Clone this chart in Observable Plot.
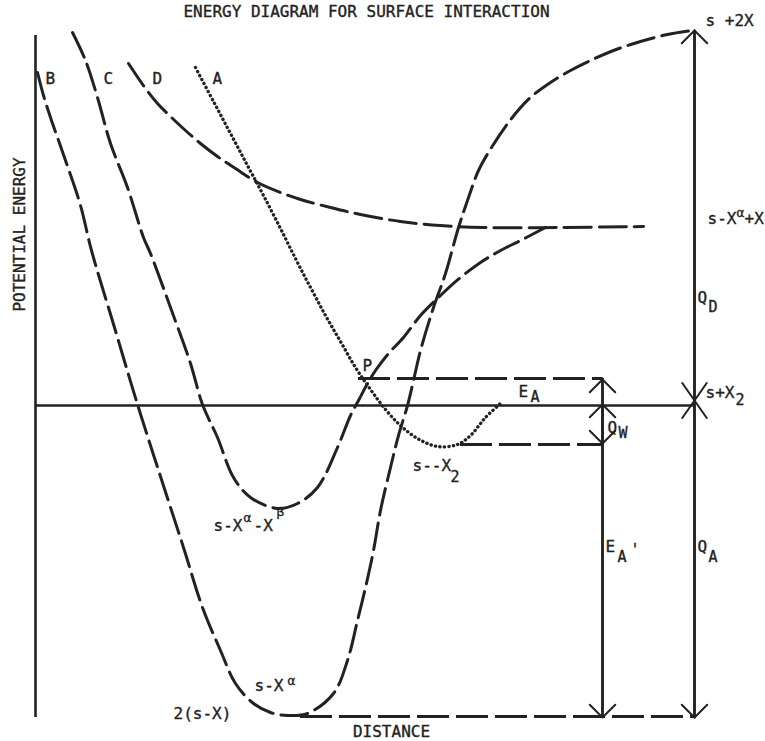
<!DOCTYPE html>
<html>
<head>
<meta charset="utf-8">
<script src="https://cdn.jsdelivr.net/npm/d3@7"></script>
<script src="https://cdn.jsdelivr.net/npm/@observablehq/plot@0.6"></script>
<style>
  html, body { margin: 0; padding: 0; background: #fff; overflow: hidden; }
</style>
</head>
<body>
<div id="chart"></div>
<script>
// ---------- data (distance / potential energy, arbitrary units; 0 = s + X2 level) ----------
// Curve B: 2(s-X) / s-X^α well rising to s + 2X
const curveBDistance = [2,8,15,30,45,56,79,102,125,148,167,185,200,218,235,252,272,298,312,322,330,338,345,355,363,372,378,385,398,410,423,432,443,456,476,495,515,535,555,578,605,632,657];
const curveBEnergy   = [333,310,288,245,200,155,78,1,-71,-142,-202,-245,-278,-298,-307,-310,-308,-288,-255,-215,-182,-145,-105,-62,-30,0,25,55,98,132,178,205,235,258,287,308,323,335,345,355,364,371,375];
// Curve C: s-X^α-X^β well rising to s-X^α+X
const curveCDistance = [37,50,62,75,92,108,115,135,155,167,182,198,215,242,262,282,302,315,323,332,340,353,368,385,405,425,445,465,485,510];
const curveCEnergy   = [373,345,308,262,218,168,152,98,42,1,-32,-72,-92,-103,-98,-82,-42,-10,5,22,35,52,68,90,110,128,143,155,165,178];
// Curve D: repulsive branch levelling to s-X^α+X
const curveDDistance = [93,110,122,135,150,165,182,200,222,245,265,295,325,365,405,448,525,608];
const curveDEnergy   = [342,317,302,289,275,262,249,237,223,213,206,198,191,184,180,178,178,179];
// Curve A (dotted): physisorption well s--X2
const curveADistance = [160,178,195,212,228,245,260,275,290,305,320,335,350,365,382,402,422,435,450,465];
const curveAEnergy   = [338,304,272,240,210,177,147,118,90,64,38,16,-4,-20,-33,-41,-39,-30,-12,2];

// Reference levels (dashed horizontals)
const levelEnergy = [27, -39, -311];
const levelStart  = [323, 425, 265];
const levelEnd    = [567, 567, 659];

// Vertical measuring lines
const measureDistance = [567, 659];
const measureTop      = [27, 375];
const measureBottom   = [-311, -312];

// Arrowheads along measuring lines: tip energies
const arrowDistance = [567, 567, 567, 567, 659, 659, 659, 659];
const arrowFrom     = [-311, -311, 27, 27, -312, -312, 375, 375];
const arrowTo       = [26, 1, -38, -312, 375, 5, 5, -312];

// Axis extents
const axisDistance = [0, 659];
const axisEnergyTop = 370;
const axisEnergyBottom = -312;

// Labels
const labelText     = ["B","C","D","A","P","E","Q","s--X","s-X","-X","s-X","2(s-X)","s +2X","s-X","+X","Q","s+X","E","Q"];
const labelDistance = [10,68,117,177,327,483,572,377,178,218,219,138,670,672,709,662,670,570,662];
const labelEnergy   = [327,327,327,327,40,14,-22,-60,-120,-120,-280,-308,385,187,187,108,13,-141,-141];

const subText     = ["A","W","2","D","2","A","'","A"];
const subDistance = [495,583,415,673,700,582,595,673];
const subEnergy   = [8,-28,-72,98,5,-152,-145,-152];

const supText     = ["α","β","α","α"];
const supDistance = [208,241,252,701];
const supEnergy   = [-112,-106,-275,193];

const titleText = ["ENERGY DIAGRAM FOR SURFACE INTERACTION"];
const titleDistance = [331];
const titleEnergy = [394];
const xLabel = ["DISTANCE"], xLabelDistance = [356], xLabelEnergy = [-326];
const yLabel = ["POTENTIAL ENERGY"], yLabelDistance = [-16], yLabelEnergy = [171];

// ---------- build tables ----------
const rows = (ds, es) => ds.map((d, i) => ({distance: d, energy: es[i]}));
const curveB = rows(curveBDistance, curveBEnergy);
const curveC = rows(curveCDistance, curveCEnergy);
const curveD = rows(curveDDistance, curveDEnergy);
const curveA = rows(curveADistance, curveAEnergy);
const levels = levelEnergy.map((e, i) => ({energy: e, start: levelStart[i], end: levelEnd[i]}));
const measures = measureDistance.map((d, i) => ({distance: d, top: measureTop[i], bottom: measureBottom[i]}));
const arrows = arrowDistance.map((d, i) => ({distance: d, from: arrowFrom[i], to: arrowTo[i]}));
const labels = labelText.map((t, i) => ({text: t, distance: labelDistance[i], energy: labelEnergy[i]}));
const subs = subText.map((t, i) => ({text: t, distance: subDistance[i], energy: subEnergy[i]}));
const sups = supText.map((t, i) => ({text: t, distance: supDistance[i], energy: supEnergy[i]}));
const title = titleText.map((t, i) => ({text: t, distance: titleDistance[i], energy: titleEnergy[i]}));
const xl = xLabel.map((t, i) => ({text: t, distance: xLabelDistance[i], energy: xLabelEnergy[i]}));
const yl = yLabel.map((t, i) => ({text: t, distance: yLabelDistance[i], energy: yLabelEnergy[i]}));

const ink = "#222";
const font = "DejaVu Sans Mono";
const dash = "27,8";
const textStyle = {x: "distance", y: "energy", text: "text", lineAnchor: "middle", fontFamily: font, fill: ink, stroke: ink, strokeWidth: 0.35};

const chart = Plot.plot({
  width: 765,
  height: 741,
  marginLeft: 35,
  marginRight: 71,
  marginTop: 25,
  marginBottom: 24,
  x: {domain: axisDistance, axis: null},
  y: {domain: [-312, 380], axis: null},
  style: {background: "#fff"},
  marks: [
    // potential-energy axis
    Plot.ruleX([axisDistance[0]], {y1: axisEnergyBottom, y2: axisEnergyTop, stroke: ink, strokeWidth: 2.6}),
    // zero level s + X2
    Plot.ruleY([0], {x1: axisDistance[0], x2: axisDistance[1], stroke: ink, strokeWidth: 2.6}),
    // measuring verticals
    Plot.ruleX(measures, {x: "distance", y1: "bottom", y2: "top", stroke: ink, strokeWidth: 2}),
    // dashed levels
    Plot.ruleY(levels, {y: "energy", x1: "start", x2: "end", stroke: ink, strokeWidth: 3, strokeDasharray: "32,7"}),
    // curves
    Plot.line(curveB, {x: "distance", y: "energy", curve: "catmull-rom", stroke: ink, strokeWidth: 3, strokeDasharray: dash}),
    Plot.line(curveC, {x: "distance", y: "energy", curve: "catmull-rom", stroke: ink, strokeWidth: 3, strokeDasharray: dash}),
    Plot.line(curveD, {x: "distance", y: "energy", curve: "catmull-rom", stroke: ink, strokeWidth: 3, strokeDasharray: dash}),
    Plot.line(curveA, {x: "distance", y: "energy", curve: "catmull-rom", stroke: ink, strokeWidth: 3.3, strokeDasharray: "0.3,4.2", strokeLinecap: "round"}),
    // arrowheads
    Plot.arrow(arrows.filter((a, i) => i !== 5 && i !== 6), {x1: "distance", x2: "distance", y1: "from", y2: "to", stroke: ink, strokeWidth: 2, headAngle: 90, headLength: 13.5}),
    Plot.arrow(arrows.filter((a, i) => i === 5 || i === 6), {x1: "distance", x2: "distance", y1: "from", y2: "to", stroke: ink, strokeWidth: 2, headAngle: 70, headLength: 16}),
    // labels
    Plot.text(labels, {...textStyle, textAnchor: "start", fontSize: 16}),
    Plot.text(subs, {...textStyle, textAnchor: "start", fontSize: 15}),
    Plot.text(sups, {...textStyle, textAnchor: "start", fontSize: 13, strokeWidth: 0.3}),
    Plot.text(title, {...textStyle, textAnchor: "middle", fontSize: 16}),
    Plot.text(xl, {...textStyle, textAnchor: "middle", fontSize: 16}),
    Plot.text(yl, {...textStyle, textAnchor: "middle", rotate: -90, fontSize: 16})
  ]
});
document.getElementById("chart").appendChild(chart);
</script>
</body>
</html>
